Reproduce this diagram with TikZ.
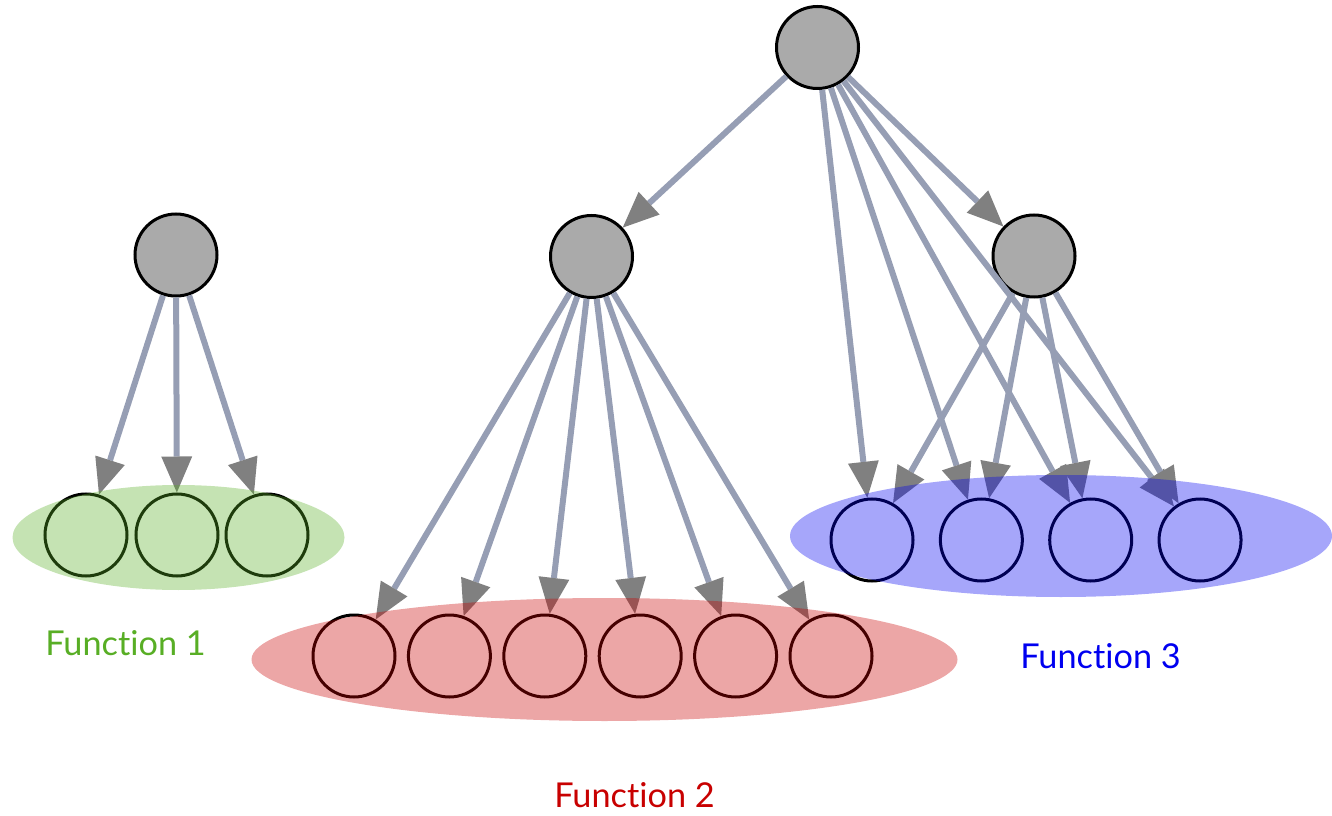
\documentclass[tikz,border=0pt]{standalone}
\usepackage{fontspec}
\setsansfont{Lato}[Ligatures={NoCommon,NoContextual}]
\usetikzlibrary{arrows.meta,shapes.geometric}

\definecolor{nodegray}{RGB}{170,170,170}
\definecolor{edgeline}{RGB}{150,158,180}
\definecolor{tipgray}{RGB}{128,128,128}
\definecolor{grpgreen}{RGB}{88,174,37}
\definecolor{grpred}{RGB}{200,0,0}
\definecolor{grpblue}{RGB}{0,0,240}

\begin{document}
\begin{tikzpicture}[
  hub/.style={draw, line width=0.06cm, circle, minimum size=1.64cm,
              inner sep=0pt, fill=nodegray},
  leaf/.style={draw, line width=0.06cm, circle, minimum size=1.64cm,
               inner sep=0pt},
  every edge/.style={draw=edgeline, line width=0.12cm,
                     -{Triangle[length=0.72cm, width=0.62cm, line width=0pt,
                                color=tipgray]}},
  grp/.style={ellipse, inner sep=0pt, fill opacity=0.35},
  lbl/.style={font=\sffamily\fontsize{19.5}{22}\selectfont,
              anchor=base west, inner sep=0pt}
]
  \useasboundingbox (0,0) rectangle (26.64,16.3);

  \node[hub]  (top) at (16.35,15.35) {};
  \node[hub]  (f1)  at (3.52,11.2)   {};
  \node[hub]  (f2)  at (11.83,11.17) {};
  \node[hub]  (f3)  at (20.68,11.18) {};

  \foreach \i/\x in {1/1.72,2/3.54,3/5.34}
    \node[leaf] (g\i) at (\x,5.6) {};
  \foreach \i in {1,...,6}
    \node[leaf] (r\i) at ({7.08+(\i-1)*1.908},3.18) {};
  \foreach \i in {1,...,4}
    \node[leaf] (b\i) at ({17.44+(\i-1)*2.187},5.5) {};

  \draw (top) edge (f2) edge (f3);
  \foreach \i in {1,2,3}
    \draw (f1) edge (g\i);
  \foreach \i in {1,...,6}
    \draw (f2) edge (r\i);
  \foreach \i in {1,...,4}
    \draw (top) edge (b\i) (f3) edge (b\i);

  % the three groups
  \node[grp, fill=grpgreen, minimum width=6.64cm,  minimum height=2.1cm]
    (e1) at (3.57,5.55) {};
  \node[grp, fill=grpred,   minimum width=14.12cm, minimum height=2.46cm]
    (e2) at (12.09,3.11) {};
  \node[grp, fill=grpblue,  minimum width=10.84cm, minimum height=2.44cm]
    (e3) at (21.22,5.58) {};

  \node[lbl, text=grpgreen] (t1) at (0.9,3.19)  {Function 1};
  \node[lbl, text=grpred]   (t2) at (11.08,0.16) {Function 2};
  \node[lbl, text=grpblue]  (t3) at (20.4,2.94) {Function 3};
\end{tikzpicture}
\end{document}
